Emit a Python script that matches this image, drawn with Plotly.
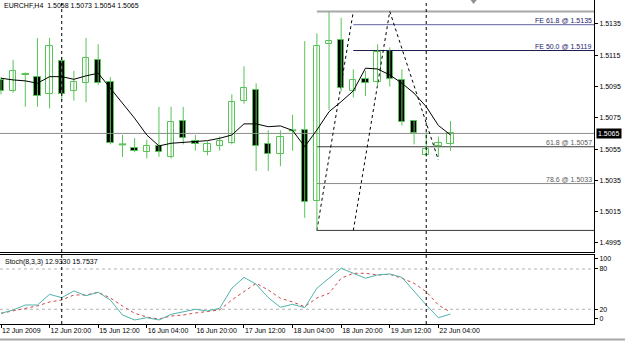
import plotly.graph_objects as go
import numpy as np

# ---------------- data (EURCHF H4, 12 Jun 2009 04:00 .. 22 Jun 2009 08:00) ----------------
bar_times = (["12 Jun 04:00", "12 Jun 08:00", "12 Jun 12:00", "12 Jun 16:00", "12 Jun 20:00"] +
             ["15 Jun %02d:00" % h for h in (0, 4, 8, 12, 16, 20)] +
             ["16 Jun %02d:00" % h for h in (0, 4, 8, 12, 16, 20)] +
             ["17 Jun %02d:00" % h for h in (0, 4, 8, 12, 16, 20)] +
             ["18 Jun %02d:00" % h for h in (0, 4, 8, 12, 16, 20)] +
             ["19 Jun %02d:00" % h for h in (0, 4, 8, 12, 16, 20)] +
             ["22 Jun 00:00", "22 Jun 04:00", "22 Jun 08:00"])

opens = [1.5099, 1.5092, 1.5103, 1.5101, 1.5090, 1.5111, 1.5092, 1.5097, 1.5112, 1.5098,
         1.5058, 1.5056, 1.5053, 1.5057, 1.5050, 1.5073, 1.5060, 1.5053, 1.5057, 1.5059,
         1.5086, 1.5093, 1.5058, 1.5052, 1.5067, 1.5067, 1.5022, 1.5122, 1.5125, 1.5092,
         1.5100, 1.5098, 1.5118, 1.5099, 1.5073, 1.5051, 1.5057, 1.5058]
highs = [1.5101, 1.5112, 1.5104, 1.5126, 1.5126, 1.5114, 1.5105, 1.5126, 1.5122, 1.5101,
         1.5064, 1.5062, 1.5061, 1.5082, 1.5082, 1.5082, 1.5064, 1.5060, 1.5063, 1.5090,
         1.5108, 1.5097, 1.5067, 1.5067, 1.5077, 1.5124, 1.5129, 1.5143, 1.5139, 1.5106,
         1.5105, 1.5122, 1.5120, 1.5106, 1.5073, 1.5066, 1.5063, 1.5073]
lows = [1.5090, 1.5091, 1.5082, 1.5082, 1.5081, 1.5086, 1.5086, 1.5085, 1.5096, 1.5058,
        1.5050, 1.5053, 1.5049, 1.5050, 1.5049, 1.5058, 1.5054, 1.5051, 1.5054, 1.5058,
        1.5084, 1.5041, 1.5041, 1.5044, 1.5054, 1.5011, 1.5003, 1.5080, 1.5092, 1.5088,
        1.5089, 1.5095, 1.5095, 1.5070, 1.5058, 1.5050, 1.5050, 1.5054]
closes = [1.5092, 1.5105, 1.5103, 1.5089, 1.5121, 1.5090, 1.5098, 1.5113, 1.5097, 1.5059,
          1.5058, 1.5054, 1.5057, 1.5053, 1.5072, 1.5062, 1.5058, 1.5058, 1.5060, 1.5085,
          1.5094, 1.5057, 1.5052, 1.5063, 1.5067, 1.5021, 1.5121, 1.5124, 1.5094, 1.5099,
          1.5097, 1.5117, 1.5100, 1.5072, 1.5065, 1.5055, 1.5059, 1.5065]
ma_values = [1.51003, 1.50992, 1.50986, 1.50971, 1.51013, 1.51013, 1.50996, 1.51018, 1.51035, 1.50939,
             1.50838, 1.50747, 1.50640, 1.50570, 1.50587, 1.50594, 1.50597, 1.50604, 1.50619, 1.50640,
             1.50711, 1.50711, 1.50693, 1.50698, 1.50669, 1.50565, 1.50672, 1.50789, 1.50853, 1.50922,
             1.51067, 1.51062, 1.51024, 1.50971, 1.50907, 1.50821, 1.50701, 1.50640]
stoch_main = [14.0, 19.0, 26.4, 26.4, 42.3, 37.3, 47.2, 40.2, 45.3, 33.8,
              11.5, 4.1, 7.5, 4.1, 12.5, 16.4, 20.0, 17.5, 21.5, 51.3,
              67.6, 57.2, 37.3, 23.0, 27.4, 22.4, 51.3, 66.2, 81.0, 73.6,
              66.2, 71.1, 72.6, 67.6, 46.2, 26.4, 7.5, 12.9]
stoch_signal = [14.0, 17.5, 21.2, 25.0, 30.9, 33.8, 41.3, 41.3, 45.3, 36.8,
                24.9, 14.0, 8.5, 5.5, 10.0, 11.5, 14.5, 16.4, 19.0, 33.8,
                46.2, 58.7, 48.7, 36.4, 30.9, 23.9, 36.8, 43.8, 66.2, 73.6,
                73.6, 71.1, 72.1, 66.2, 58.7, 46.2, 26.4, 15.75]

tick_bars = [0, 4, 8, 12, 16, 20, 24, 28, 32, 36]
tick_labels = ["12 Jun 2009", "12 Jun 20:00", "15 Jun 12:00", "16 Jun 04:00", "16 Jun 20:00",
               "17 Jun 12:00", "18 Jun 04:00", "18 Jun 20:00", "19 Jun 12:00", "22 Jun 04:00"]
price_ticks = [1.5135, 1.5115, 1.5095, 1.5075, 1.5055, 1.5035, 1.5015, 1.4995]
stoch_tick_vals = [94.9, 80, 20, 5.6]
stoch_tick_text = ["100", "80", "20", "0"]
week_separators = [5, 35]

# Fibonacci retracement (bar, price) anchors and levels
fr_bars = [26, 29]
fr_prices = [1.5003, 1.5143]
fr_levels = [0.0, 61.8, 78.6, 100.0]
fr_labels = ["", "61.8 @ 1.5057", "78.6 @ 1.5033", ""]
# Fibonacci expansion anchors and levels
fe_bars = [29, 32, 36]
fe_prices = [1.5003, 1.5143, 1.5048]
fe_levels = [50.0, 61.8]
fe_labels = ["FE 50.0 @ 1.5119", "FE 61.8 @ 1.5135"]

bid = 1.5065
title_text = "EURCHF,H4  1.5058 1.5073 1.5054 1.5065"
stoch_text = "Stoch(8,3,3) 12.9330 15.7537"

# ---------------- figure ----------------
XMIN, XMAX = -0.082, 48.81
n = len(opens)
idx = np.arange(n)
o = np.array(opens); c = np.array(closes); h = np.array(highs); l = np.array(lows)

GREEN = "#58c458"
FONT = "Liberation Sans"
fig = go.Figure()

# bid line
fig.add_trace(go.Scatter(x=[XMIN, XMAX], y=[bid, bid], mode="lines",
                         line=dict(color="#8c8c8c", width=1), hoverinfo="skip"))

# fib retracement levels
fr_cols = ["#a8a8a8", "#3a3a3a", "#8a8a8a", "#3a3a3a"]
fr_w = [2, 1, 1, 1]
rng = fr_prices[1] - fr_prices[0]
for lv, col, w, lab in zip(fr_levels, fr_cols, fr_w, fr_labels):
    p = fr_prices[1] - lv / 100 * rng
    fig.add_trace(go.Scatter(x=[fr_bars[0], XMAX], y=[p, p], mode="lines",
                             line=dict(color=col, width=w), hoverinfo="skip"))
    if lab:
        fig.add_annotation(x=592.5 / 594, xref="paper", y=p, yref="y", text=lab,
                           showarrow=False, xanchor="right", yanchor="bottom",
                           font=dict(family=FONT, size=7, color="#5a5a5a"), borderpad=0)

# fib expansion levels
fe_cols = ["#1c1c50", "#6464a0"]
swing = fe_prices[1] - fe_prices[0]
for lv, col, lab in zip(fe_levels, fe_cols, fe_labels):
    p = fe_prices[2] + lv / 100 * swing
    fig.add_trace(go.Scatter(x=[fe_bars[0], XMAX], y=[p, p], mode="lines",
                             line=dict(color=col, width=1), hoverinfo="skip"))
    fig.add_annotation(x=592.5 / 594, xref="paper", y=p, yref="y", text=lab,
                       showarrow=False, xanchor="right", yanchor="bottom",
                       font=dict(family=FONT, size=7, color="#24246a"), borderpad=0)

# dashed trend lines of the fib objects
fig.add_trace(go.Scatter(x=fr_bars, y=fr_prices, mode="lines",
                         line=dict(color="black", width=1, dash="dot"), hoverinfo="skip"))
fig.add_trace(go.Scatter(x=fe_bars, y=fe_prices, mode="lines",
                         line=dict(color="black", width=1, dash="dot"), hoverinfo="skip"))

# wicks
wx, wy = [], []
for i in range(n):
    wx += [i, i, None]
    wy += [l[i], h[i], None]
fig.add_trace(go.Scatter(x=wx, y=wy, mode="lines", line=dict(color=GREEN, width=1),
                         hoverinfo="skip"))

# bodies
body = np.abs(c - o)
non_doji = body > 1e-9
fig.add_trace(go.Bar(x=idx[non_doji], y=body[non_doji], base=np.minimum(o, c)[non_doji],
                     width=0.52,
                     marker=dict(color=np.where(c >= o, "white", "black")[non_doji],
                                 line=dict(color=GREEN, width=1)),
                     hoverinfo="skip"))
dx, dy = [], []
for i in idx[~non_doji]:
    dx += [i - 0.3, i + 0.3, None]
    dy += [o[i], o[i], None]
fig.add_trace(go.Scatter(x=dx, y=dy, mode="lines", line=dict(color=GREEN, width=2),
                         hoverinfo="skip"))

# moving average
fig.add_trace(go.Scatter(x=idx, y=ma_values, mode="lines", line=dict(color="black", width=1),
                         hoverinfo="skip"))

# chart-shift marker
fig.add_trace(go.Scatter(x=[38.9], y=[1.51503], mode="markers", cliponaxis=False,
                         marker=dict(symbol="triangle-down", size=8, color="#909090"),
                         hoverinfo="skip"))

# stochastic
for lvl in (20, 80):
    fig.add_trace(go.Scatter(x=[XMIN, XMAX], y=[lvl, lvl], mode="lines", xaxis="x2", yaxis="y2",
                             line=dict(color="#b4b4b4", width=1, dash="dot"), hoverinfo="skip"))
fig.add_trace(go.Scatter(x=idx, y=stoch_signal, mode="lines", xaxis="x2", yaxis="y2",
                         line=dict(color="#d04848", width=1, dash="dot"), hoverinfo="skip"))
fig.add_trace(go.Scatter(x=idx, y=stoch_main, mode="lines", xaxis="x2", yaxis="y2",
                         line=dict(color="#4fb4ac", width=1), hoverinfo="skip"))

# period separators
for b in week_separators:
    fig.add_shape(type="line", xref="x", yref="paper", x0=b, x1=b, y0=0, y1=1,
                  line=dict(color="black", width=1, dash="dot"))

# bottom window strip
fig.add_shape(type="line", xref="paper", yref="paper", x0=0, x1=625 / 594,
              y0=1 - 339.5 / 324, y1=1 - 339.5 / 324, line=dict(color="#a8a8a8", width=2))

# texts
fig.add_annotation(x=2 / 594, xref="paper", y=1 - 5.5 / 324, yref="paper", text=title_text,
                   showarrow=False, xanchor="left", yanchor="middle",
                   font=dict(family=FONT, size=7, color="black"))
fig.add_annotation(x=3 / 594, xref="paper", y=1 - 261.5 / 324, yref="paper", text=stoch_text,
                   showarrow=False, xanchor="left", yanchor="middle",
                   font=dict(family=FONT, size=7, color="black"))
fig.add_annotation(x=596.5 / 594, xref="paper", y=bid, yref="y", text="1.5065",
                   showarrow=False, xanchor="left", yanchor="middle", bgcolor="black",
                   borderpad=1, font=dict(family=FONT, size=7, color="white"))

axis_common = dict(showgrid=False, zeroline=False, linecolor="black", linewidth=1,
                   automargin=False,
                   tickfont=dict(family=FONT, size=7, color="black"), tickcolor="black")
fig.update_layout(
    width=625, height=341,
    margin=dict(l=0, r=31, t=0, b=17, autoexpand=False),
    paper_bgcolor="white", plot_bgcolor="white",
    showlegend=False, bargap=0,
    xaxis=dict(domain=[0, 1], anchor="y", range=[XMIN, XMAX], showticklabels=False,
               showline=True, ticks="", **axis_common),
    yaxis=dict(domain=[72 / 324, 1], anchor="x", side="right",
               range=[1.49892, 1.51503], tickvals=price_ticks,
               ticktext=["%.4f" % v for v in price_ticks],
               ticks="outside", ticklen=3, showline=True, mirror=True, **axis_common),
    xaxis2=dict(domain=[0, 1], anchor="y2", range=[XMIN, XMAX], tickvals=tick_bars,
                ticktext=tick_labels, ticks="outside", ticklen=3, tickangle=0,
                ticklabelposition="outside right",
                showline=True, mirror=True, **axis_common),
    yaxis2=dict(domain=[0, 69 / 324], anchor="x2", side="right", range=[-1.9, 100.8],
                tickvals=stoch_tick_vals, ticktext=stoch_tick_text, ticks="outside",
                ticklen=3, showline=True, mirror=True, **axis_common),
)

fig.write_html("out.html")
